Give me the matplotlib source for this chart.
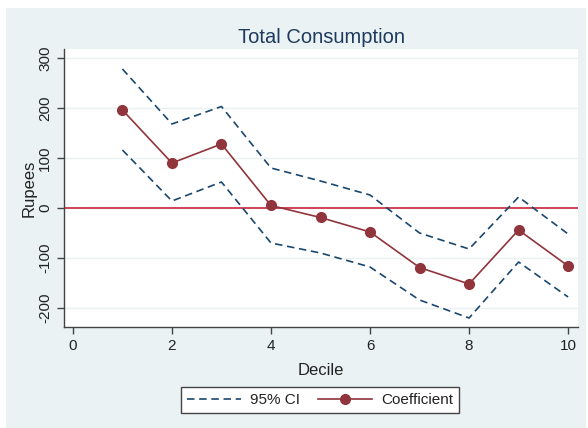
import numpy as np
import matplotlib.pyplot as plt
from matplotlib.patches import Rectangle

plt.rcParams['font.family'] = ['Liberation Sans', 'DejaVu Sans']

# Coefficients by consumption decile, with 95% confidence bounds
decile = [1, 2, 3, 4, 5, 6, 7, 8, 9, 10]
coef = [196, 90, 128, 5, -19, -48, -119, -152, -44, -116]
ci_upper = [278, 168, 203, 80, 54, 26, -50, -82, 22, -52]
ci_lower = [116, 14, 52, -70, -90, -118, -184, -220, -108, -178]

bg = '#EAF2F3'
navy = '#1A476F'
maroon = '#90353B'
dash = (0, (4.5, 2.8))

fig = plt.figure(figsize=(5.88, 4.28), dpi=100)
fig.patch.set_facecolor('white')
fig.patches.append(Rectangle((6 / 588, 0), 580 / 588, 420 / 428,
                             transform=fig.transFigure, facecolor=bg,
                             edgecolor='none', zorder=-10))

ax = fig.add_axes([64 / 588, 101 / 428, 514 / 588, 278 / 428])
ax.set_facecolor('white')

for y in [-200, -100, 100, 200, 300]:
    ax.axhline(y, color=bg, lw=1, zorder=1)
ax.axhline(0, color='#C8243A', lw=1.2, zorder=2)

ax.plot(decile, ci_upper, color=navy, lw=1.2, ls=dash, zorder=3)
ax.plot(decile, ci_lower, color=navy, lw=1.2, ls=dash, zorder=3,
        label='95% CI')
ax.plot(decile, coef, color=maroon, lw=1.2, marker='o', ms=7, zorder=4,
        label='Coefficient')

ax.set_xlim(-0.18, 10.2)
ax.set_ylim(-238, 318)
ax.set_xticks([0, 2, 4, 6, 8, 10])
ax.set_yticks([-200, -100, 0, 100, 200, 300])
ax.set_yticklabels(['-200', '-100', '0', '100', '200', '300'],
                   rotation=90, va='center')

for s in ['top', 'right']:
    ax.spines[s].set_visible(False)
for s in ['left', 'bottom']:
    ax.spines[s].set_color('#444444')
    ax.spines[s].set_linewidth(1)
ax.tick_params(colors='#444444', labelcolor='#222222', labelsize=11,
               length=5, width=1)

ax.set_xlabel('Decile', fontsize=12, color='#222222', labelpad=7)
ax.set_ylabel('Rupees', fontsize=12, color='#222222', labelpad=1)
ax.set_title('Total Consumption', fontsize=14.5, color='#1E3A5F', pad=4)

handles, labels = ax.get_legend_handles_labels()
leg = fig.legend(handles, labels, loc='center', bbox_to_anchor=(320 / 588, 28 / 428),
                 ncol=2, frameon=True, fancybox=False, fontsize=11,
                 handlelength=3.5, handletextpad=0.6, columnspacing=1.2,
                 borderpad=0.4)
leg.get_frame().set_edgecolor('#444444')
leg.get_frame().set_facecolor('white')
leg.get_frame().set_alpha(1)
leg.get_frame().set_linewidth(1)
for t in leg.get_texts():
    t.set_color('#222222')

fig.savefig('out.png', dpi=100, facecolor=fig.get_facecolor())
